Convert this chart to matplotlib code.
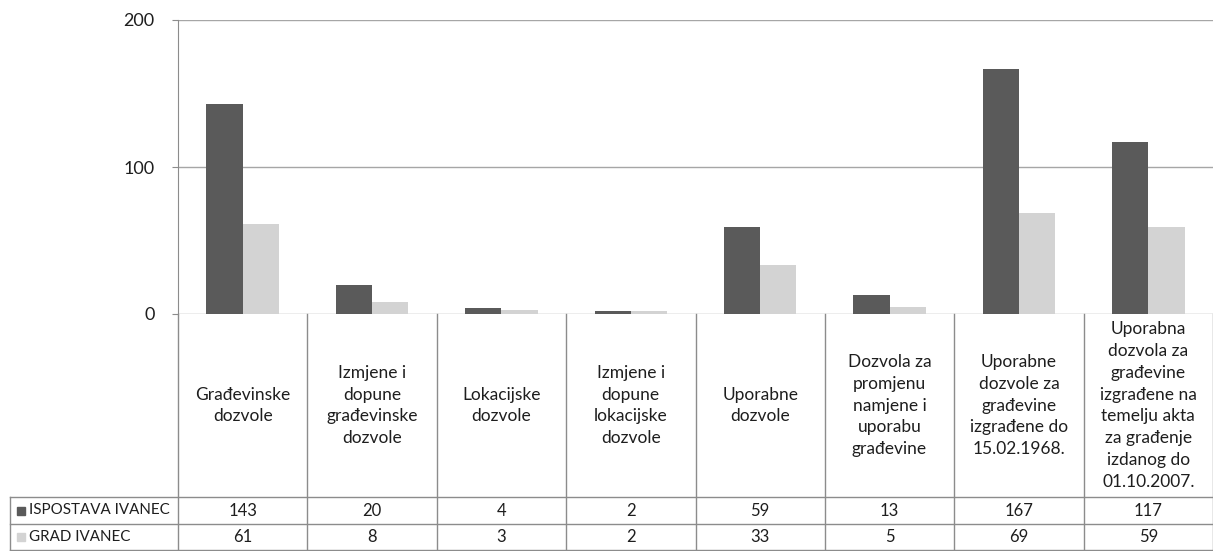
import matplotlib.pyplot as plt
from matplotlib.transforms import blended_transform_factory
from matplotlib.patches import Rectangle

plt.rcParams['font.family'] = ['Lato', 'DejaVu Sans']

categories = [
    "Građevinske\ndozvole",
    "Izmjene i\ndopune\ngrađevinske\ndozvole",
    "Lokacijske\ndozvole",
    "Izmjene i\ndopune\nlokacijske\ndozvole",
    "Uporabne\ndozvole",
    "Dozvola za\npromjenu\nnamjene i\nuporabu\ngrađevine",
    "Uporabne\ndozvole za\ngrađevine\nizgrađene do\n15.02.1968.",
    "Uporabna\ndozvola za\ngrađevine\nizgrađene na\ntemelju akta\nza građenje\nizdanog do\n01.10.2007.",
]
series_names = ["ISPOSTAVA IVANEC", "GRAD IVANEC"]
ispostava = [143, 20, 4, 2, 59, 13, 167, 117]
grad = [61, 8, 3, 2, 33, 5, 69, 59]
yticks = [0, 100, 200]

DARK = "#5a5a5a"
LIGHT = "#d3d3d3"
LINE = "#8c8c8c"
TXT = "#1e1e1e"

W, H = 1213, 551
fig = plt.figure(figsize=(W / 100, H / 100), dpi=100)


def fy(py):
    return 1 - py / H


ax_left, ax_right = 178 / W, 1213 / W
ax_top, ax_bot = fy(20), fy(314)
ax = fig.add_axes([ax_left, ax_bot, ax_right - ax_left, ax_top - ax_bot])

n = len(categories)
x = list(range(n))
bw = 0.28
ax.bar([i - bw / 2 for i in x], ispostava, width=bw, color=DARK, zorder=3)
ax.bar([i + bw / 2 for i in x], grad, width=bw, color=LIGHT, zorder=3)

ax.set_xlim(-0.5, n - 0.5)
ax.set_ylim(0, 200)
ax.set_yticks(yticks)
ax.set_xticks([])
ax.tick_params(axis='y', length=4, color=LINE, labelsize=13, pad=13, labelcolor=TXT)
ax.grid(axis='y', color="#a6a6a6", linewidth=1, zorder=0)
for s in ["right", "bottom", "top"]:
    ax.spines[s].set_visible(False)
ax.spines["left"].set_color(LINE)

# data table below the plot
tr = blended_transform_factory(ax.transData, fig.transFigure)
y_axis, y_r1, y_r2, y_end = fy(314), fy(497), fy(524), fy(550)
for b in range(n + 1):
    xb = b - 0.5
    ax.plot([xb, xb], [y_axis, y_end], transform=tr, color=LINE, lw=1, clip_on=False)
for yy in (y_r1, y_r2, y_end):
    fig.add_artist(plt.Line2D([10 / W, 1], [yy, yy], color=LINE, lw=1))
fig.add_artist(plt.Line2D([10 / W, 10 / W], [y_r1, y_end], color=LINE, lw=1))

for i, lab in enumerate(categories):
    ax.text(i, (y_axis + y_r1) / 2, lab, transform=tr, ha='center', va='center',
            fontsize=12.5, linespacing=1.45, color=TXT)
    ax.text(i, (y_r1 + y_r2) / 2, str(ispostava[i]), transform=tr, ha='center',
            va='center', fontsize=12, color=TXT)
    ax.text(i, (y_r2 + y_end) / 2, str(grad[i]), transform=tr, ha='center',
            va='center', fontsize=12, color=TXT)

for name, col, (ya, yb) in zip(series_names, [DARK, LIGHT], [(y_r1, y_r2), (y_r2, y_end)]):
    yc = (ya + yb) / 2
    fig.add_artist(Rectangle((17 / W, yc - 4 / H), 8 / W, 8 / H, color=col))
    fig.text(29 / W, yc, name, ha='left', va='center', fontsize=10.9, color=TXT)

fig.savefig("out.png", dpi=100)
